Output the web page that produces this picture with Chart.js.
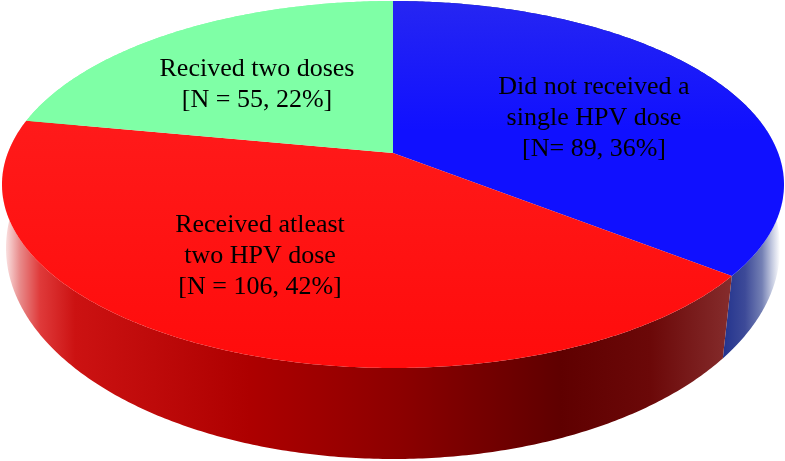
<!DOCTYPE html>
<html>
<head>
<meta charset="utf-8">
<style>
  html, body { margin: 0; padding: 0; background: #fff; }
  canvas { display: block; }
</style>
<script src="https://cdn.jsdelivr.net/npm/chart.js@4"></script>
</head>
<body>
<canvas id="chart" width="785" height="461"></canvas>
<script>
const categories = ['Did not received a single HPV dose', 'Received atleast two HPV dose', 'Recived two doses']
const doseCounts = [89, 106, 55]
const labelLines = [
  ['Did not received a', 'single HPV dose', '[N= 89, 36%]'],
  ['Received atleast', 'two HPV dose', '[N = 106, 42%]'],
  ['Recived two doses', '[N = 55, 22%]']
]

// where each label block sits (centre x, first baseline y)
const labelAnchors = [[594, 94], [260, 232], [257, 76]]
const lineGap = 31

const faceColors = ['#1212ff', '#ff1111', '#7fffa6']

// camera tilt: the hub is not in the middle of the ellipse
const topRim = { hubX: 393, hubY: 153, up: 152, down: 215, half: 391 }
const lowRim = { hubX: 393, hubY: 218.5, up: 181.5, down: 240.5, half: 387 }

function project(rim, angle) {
  const tilt = (rim.up - rim.down) / (rim.up + rim.down)
  const x = Math.cos(angle), y = Math.sin(angle)
  const w = 1 + tilt * y
  return [
    rim.hubX + rim.half * Math.sqrt(1 - tilt * tilt) * x / w,
    rim.hubY + rim.up * (1 - tilt) * y / w
  ]
}

function rimPoints(rim, start, end) {
  const steps = Math.ceil((end - start) / 0.01)
  const pts = []
  for (let i = 0; i <= steps; i++) pts.push(project(rim, start + (end - start) * i / steps))
  return pts
}

function wallGradient(ctx, stops) {
  const g = ctx.createLinearGradient(0, 0, 785, 0)
  stops.forEach(([x, c]) => g.addColorStop(x / 785, c))
  return g
}

function faceGradient(ctx, from, to, y0, y1) {
  const g = ctx.createLinearGradient(0, y0, 0, y1)
  g.addColorStop(0, from)
  g.addColorStop(1, to)
  return g
}

const perspectivePie = {
  id: 'perspectivePie',
  beforeDatasetsDraw(chart) {
    const ctx = chart.ctx
    const arcs = chart.getDatasetMeta(0).data

    const wallFills = [
      wallGradient(ctx, [[724, '#24348e'], [745, '#3d4a98'], [762, '#7480b4'], [772, '#c4cae0'], [780, '#ffffff']]),
      wallGradient(ctx, [[5, '#fbe6e6'], [20, '#e88a8a'], [40, '#df3a3a'], [75, '#cc1212'], [250, '#ad0000'], [400, '#8c0000'], [560, '#5f0000'], [650, '#6b0808'], [735, '#862e2e']]),
      faceColors[2]
    ]
    const faceFills = [
      faceGradient(ctx, '#2626f2', '#1010ff', 0, 130),
      faceGradient(ctx, '#ff1a1a', '#ff0c0c', 120, 360),
      faceColors[2]
    ]

    // walls first, the top face hides whatever is behind it
    arcs.forEach((arc, i) => {
      const top = rimPoints(topRim, arc.startAngle, arc.endAngle)
      const low = rimPoints(lowRim, arc.startAngle, arc.endAngle).reverse()
      ctx.beginPath()
      top.concat(low).forEach((p, j) => j ? ctx.lineTo(p[0], p[1]) : ctx.moveTo(p[0], p[1]))
      ctx.closePath()
      ctx.fillStyle = wallFills[i]
      ctx.fill()
    })

    arcs.forEach((arc, i) => {
      ctx.beginPath()
      ctx.moveTo(topRim.hubX, topRim.hubY)
      rimPoints(topRim, arc.startAngle, arc.endAngle).forEach(p => ctx.lineTo(p[0], p[1]))
      ctx.closePath()
      ctx.fillStyle = faceFills[i]
      ctx.fill()
    })
    return false
  },
  // afterDatasetsDraw does not fire once the hook above returned false
  afterDraw(chart) {
    const ctx = chart.ctx
    ctx.save()
    ctx.fillStyle = '#000'
    ctx.font = '26px "Liberation Serif"'
    ctx.textAlign = 'center'
    ctx.textBaseline = 'alphabetic'
    labelLines.forEach((lines, i) => {
      lines.forEach((line, j) => {
        ctx.fillText(line, labelAnchors[i][0], labelAnchors[i][1] + j * lineGap)
      })
    })
    ctx.restore()
  }
}

new Chart(document.getElementById('chart'), {
  type: 'pie',
  data: {
    labels: categories,
    datasets: [{
      data: doseCounts,
      backgroundColor: faceColors,
      borderWidth: 0
    }]
  },
  options: {
    responsive: false,
    animation: false,
    plugins: {
      legend: { display: false },
      tooltip: { enabled: false }
    }
  },
  plugins: [perspectivePie]
})
</script>
</body>
</html>
